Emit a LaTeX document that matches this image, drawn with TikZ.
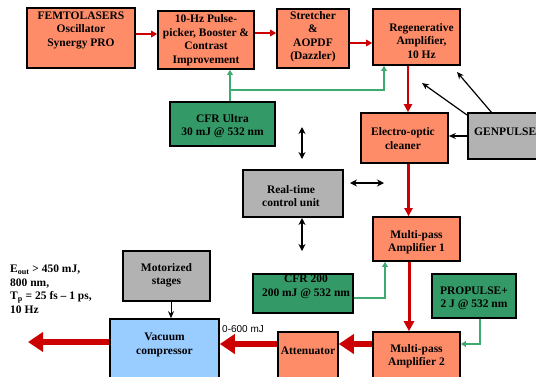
\documentclass[tikz,border=0pt]{standalone}
\usepackage{fontspec}
\setmainfont{Liberation Serif}
\newfontfamily\arialfont{Liberation Sans}
\usetikzlibrary{arrows.meta}
\definecolor{salmon}{HTML}{FF8C69}
\definecolor{boxgreen}{HTML}{339966}
\definecolor{boxgray}{HTML}{B2B2B2}
\definecolor{boxblue}{HTML}{99CCFF}
\definecolor{arrred}{HTML}{CC0000}
\definecolor{arrgreen}{HTML}{3DAA70}
\begin{document}
\begin{tikzpicture}[x=1pt,y=-1pt,
  box/.style={draw=black, line width=1.6pt, inner sep=0pt},
  orangebox/.style={box, fill=salmon},
  greenbox/.style={box, fill=boxgreen},
  graybox/.style={box, fill=boxgray},
  bluebox/.style={box, fill=boxblue},
  txt/.style={align=center, inner sep=0pt, font=\fontsize{11.5}{13.5}\selectfont\bfseries},
  redthin/.style={draw=arrred, line width=1.5pt, -{Triangle[length=6pt,width=6.5pt]}},
  redmid/.style={draw=arrred, line width=2.6pt, -{Triangle[length=8pt,width=8pt]}},
  redbig/.style={draw=arrred, line width=3pt, -{Triangle[length=10pt,width=10pt]}},
  redhuge/.style={draw=arrred, line width=5.5pt, -{Triangle[length=15pt,width=19pt]}},
  grn/.style={draw=arrgreen, line width=1.3pt, -{Triangle[length=5pt,width=5.5pt]}},
  blk/.style={draw=black, line width=1.2pt, -{Stealth[length=7pt,width=6pt]}},
  blkdbl/.style={draw=black, line width=1.3pt, {Stealth[length=7pt,width=7pt]}-{Stealth[length=7pt,width=7pt]}}
]
\useasboundingbox (0,0) rectangle (536,376);

% boxes
\node[orangebox, minimum width=108pt, minimum height=60pt] (fem) at (81,38) {};
\node[txt] (femt) at (81,30) {FEMTOLASERS\\Oscillator\\Synergy PRO};

\node[orangebox, minimum width=96pt, minimum height=58pt] (pp) at (206,40) {};
\node[txt] (ppt) at (206,40) {10-Hz Pulse-\\picker, Booster \&\\Contrast\\Improvement};

\node[orangebox, minimum width=72pt, minimum height=59pt] (str) at (313,38.5) {};
\node[txt] (strt) at (313,36.5) {Stretcher\\\&\\AOPDF\\(Dazzler)};

\node[orangebox, minimum width=87pt, minimum height=56pt] (regen) at (416.5,37) {};
\node[txt] (regent) at (421.5,41) {Regenerative\\Amplifier,\\10 Hz};

\node[orangebox, minimum width=87pt, minimum height=50pt] (eoc) at (404.5,138) {};
\node[txt] (eoct) at (403,138.5) {Electro-optic\\cleaner};

\node[graybox, minimum width=80pt, minimum height=46pt] (gen) at (508,136) {};
\node[txt, anchor=west] (gent) at (474,132) {GENPULSE};

\node[greenbox, minimum width=105pt, minimum height=44pt] (cfru) at (222.5,124) {};
\node[txt] (cfrut) at (222.5,126) {CFR Ultra\\30 mJ @ 532 nm};

\node[graybox, minimum width=100pt, minimum height=47pt] (rt) at (293,193.5) {};
\node[txt] (rtt) at (291,196) {Real-time\\control unit};

\node[orangebox, minimum width=87pt, minimum height=44pt] (mp1) at (416.5,239) {};
\node[txt] (mp1t) at (416.5,242) {Multi-pass\\Amplifier 1};

\node[greenbox, minimum width=100pt, minimum height=39pt] (cfr2) at (303,293.5) {};
\node[txt] (cfr2t) at (306,287) {CFR 200\\200 mJ @ 532 nm};

\node[greenbox, minimum width=84pt, minimum height=44pt] (prop) at (474,296) {};
\node[txt] (propt) at (474,298.5) {PROPULSE+\\2 J @ 532 nm};

\node[orangebox, minimum width=87pt, minimum height=48pt] (mp2) at (416.5,356) {};
\node[txt] (mp2t) at (416.5,356) {Multi-pass\\Amplifier 2};

\node[orangebox, minimum width=60pt, minimum height=48pt] (att) at (308,356) {};
\node[txt] (attt) at (308,351) {Attenuator};

\node[bluebox, minimum width=109pt, minimum height=62pt] (vac) at (164.5,350) {};
\node[txt] (vact) at (164.5,345) {Vacuum\\compressor};

\node[graybox, minimum width=87pt, minimum height=50pt] (mot) at (166.5,276) {};
\node[txt] (mott) at (166.5,275.5) {Motorized\\stages};

% free text
\node[txt, align=left, anchor=north west] (outtxt) at (10,265) {E\textsubscript{out} > 450 mJ,\\800 nm,\\T\textsubscript{p} = 25 fs -- 1 ps,\\10 Hz};
\node[inner sep=0pt, anchor=west, font=\arialfont\fontsize{10}{12}\selectfont] (lbl) at (222,329) {0-600 mJ};

% red beam path
\draw[redthin] ([yshift=4pt]fem.east) -- ([yshift=4pt]fem.east -| pp.west);
\draw[redthin] ([yshift=7pt]pp.east) -- ([yshift=7pt]pp.east -| str.west);
\draw[redthin] ([yshift=-4.5pt]str.east) -- ([yshift=-4.5pt]str.east -| regen.west);
\draw[redmid] ([xshift=-8.5pt]regen.south) -- ([xshift=-8.5pt]regen.south |- eoc.north);
\draw[redmid] ([xshift=4pt]eoc.south) -- ([xshift=4pt]eoc.south |- mp1.north);
\draw[redbig] ([xshift=-7.5pt]mp1.south) -- ([xshift=-7.5pt]mp1.south |- mp2.north);
\draw[redhuge] ([yshift=12pt]mp2.west) -- ([yshift=12pt]mp2.west -| att.east);
\draw[redhuge] ([yshift=12pt]att.west) -- ([yshift=12pt]att.west -| vac.east);
\coordinate (out) at (28,342);
\draw[redhuge] (vac.west |- out) -- (out);

% green pump lines
\coordinate (gsplit) at (230,90);
\draw[grn] (cfru.north -| gsplit) -- (pp.south -| gsplit);
\coordinate (gcorner) at (384,90);
\draw[grn] (gsplit) -- (gcorner) -- (regen.south -| gcorner);
\coordinate (g2corner) at (385,298);
\draw[grn] (cfr2.east |- g2corner) -- (g2corner) -- (mp1.south -| g2corner);
\coordinate (g3corner) at (480,344);
\draw[grn] (prop.south -| g3corner) -- (g3corner) -- (mp2.east |- g3corner);

% black control lines
\draw[blk] (gen.west |- 0,136) -- (eoc.east |- 0,136);
\coordinate (ga1) at (467,115);
\coordinate (ga1e) at (422,83);
\coordinate (ga2) at (492,113);
\coordinate (ga2e) at (457,72);
\draw[blk] (ga1) -- (ga1e);
\draw[blk] (ga2) -- (ga2e);
\coordinate (d1a) at (302,127);
\coordinate (d1b) at (302,159);
\draw[blkdbl] (d1a) -- (d1b);
\coordinate (d2a) at (350,183);
\coordinate (d2b) at (384,183);
\draw[blkdbl] (d2a) -- (d2b);
\coordinate (d3a) at (302,218);
\coordinate (d3b) at (302,251);
\draw[blkdbl] (d3a) -- (d3b);
\draw[blk, line width=1pt] ([xshift=4.5pt]mot.south) -- ([xshift=4.5pt]mot.south |- vac.north);
\end{tikzpicture}
\end{document}
